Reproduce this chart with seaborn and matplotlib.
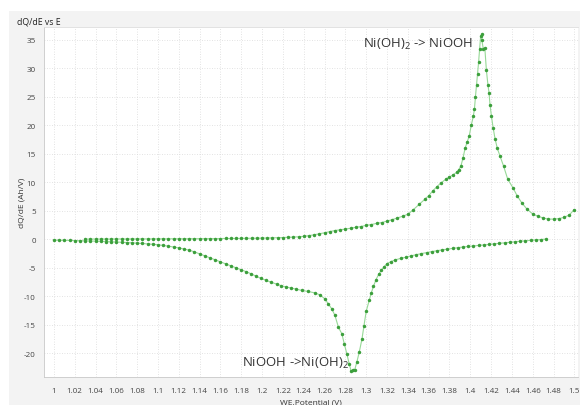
import numpy as np
import pandas as pd
import matplotlib
matplotlib.use("Agg")
import matplotlib.pyplot as plt
from matplotlib.patches import Rectangle
from matplotlib.ticker import MultipleLocator, FuncFormatter
import seaborn as sns

# =========================
# DATA
# =========================

# charge branch (upper curve), in scan order
charge_v = [
    1.030, 1.035, 1.040, 1.045, 1.050, 1.055, 1.060, 1.065, 1.070, 1.075,
    1.080, 1.085, 1.090, 1.095, 1.100, 1.105, 1.110, 1.115, 1.120, 1.125,
    1.130, 1.135, 1.140, 1.145, 1.150, 1.155, 1.160, 1.165, 1.170, 1.175,
    1.180, 1.185, 1.190, 1.195, 1.200, 1.205, 1.210, 1.215, 1.220, 1.225,
    1.230, 1.235, 1.240, 1.245, 1.250, 1.255, 1.260, 1.265, 1.270, 1.275,
    1.280, 1.285, 1.290, 1.295, 1.300, 1.305, 1.310, 1.315, 1.320, 1.325,
    1.330, 1.335, 1.340, 1.345, 1.351, 1.3565, 1.360, 1.364, 1.368, 1.3716,
    1.3765, 1.380, 1.383, 1.3868, 1.389, 1.391, 1.393, 1.395, 1.397, 1.399,
    1.401, 1.403, 1.404, 1.405, 1.406, 1.407, 1.408, 1.409, 1.410, 1.4115,
    1.411, 1.4125, 1.414, 1.4155, 1.417, 1.418, 1.419, 1.4203, 1.422, 1.4238,
    1.426, 1.4287, 1.432, 1.436, 1.441, 1.445, 1.4497, 1.4545, 1.460, 1.465,
    1.470, 1.475, 1.480, 1.4855, 1.490, 1.495, 1.4995,
]
charge_dqde = [
    0.00, 0.00, 0.01, 0.01, 0.01, 0.01, 0.02, 0.02, 0.02, 0.02,
    0.03, 0.03, 0.03, 0.03, 0.04, 0.04, 0.04, 0.05, 0.05, 0.05,
    0.06, 0.06, 0.07, 0.07, 0.08, 0.08, 0.09, 0.10, 0.10, 0.11,
    0.12, 0.13, 0.14, 0.15, 0.17, 0.19, 0.21, 0.24, 0.27, 0.31,
    0.35, 0.40, 0.47, 0.60, 0.75, 0.92, 1.10, 1.30, 1.50, 1.62,
    1.75, 1.90, 2.05, 2.20, 2.40, 2.55, 2.75, 2.90, 3.15, 3.40,
    3.70, 4.00, 4.35, 5.10, 6.10, 7.00, 7.60, 8.45, 9.20, 9.80,
    10.5, 10.9, 11.2, 11.7, 12.2, 12.8, 14.2, 15.9, 17.0, 18.1,
    20.0, 21.6, 22.8, 25.0, 27.0, 29.0, 31.0, 33.4, 35.6, 35.9,
    35.0, 33.4, 33.5, 29.6, 27.0, 25.7, 23.5, 21.6, 19.5, 17.6,
    15.9, 14.5, 12.8, 10.5, 9.0, 7.6, 6.3, 5.25, 4.4, 4.0,
    3.7, 3.5, 3.5, 3.6, 3.8, 4.2, 5.1,
]

# discharge branch (lower curve), in scan order
discharge_v = [
    1.473, 1.468, 1.463, 1.458, 1.453, 1.448, 1.443, 1.438, 1.433, 1.428,
    1.423, 1.418, 1.413, 1.408, 1.403, 1.398, 1.393, 1.388, 1.383, 1.378,
    1.373, 1.368, 1.363, 1.358, 1.353, 1.348, 1.343, 1.338, 1.333, 1.328,
    1.324, 1.320, 1.317, 1.3145, 1.312, 1.3095, 1.307, 1.305, 1.303, 1.300,
    1.2978, 1.296, 1.2934, 1.291, 1.2889, 1.2872, 1.2856, 1.2837, 1.2814, 1.279,
    1.2766, 1.2734, 1.270, 1.267, 1.2637, 1.2604, 1.2556, 1.2508, 1.2444, 1.238,
    1.233, 1.228, 1.223, 1.2186, 1.214, 1.209, 1.204, 1.199, 1.194, 1.1895,
    1.185, 1.180, 1.175, 1.170, 1.165, 1.160, 1.155, 1.150, 1.145, 1.140,
    1.135, 1.130, 1.125, 1.120, 1.115, 1.110, 1.105, 1.100, 1.095, 1.090,
    1.085, 1.080, 1.075, 1.070, 1.065, 1.060, 1.055, 1.050, 1.045, 1.040,
    1.035, 1.030, 1.025, 1.020, 1.015, 1.010, 1.005, 1.000,
]
discharge_dqde = [
    0.00, -0.08, -0.15, -0.22, -0.30, -0.38, -0.47, -0.57, -0.66, -0.75,
    -0.84, -0.94, -1.03, -1.12, -1.21, -1.30, -1.40, -1.52, -1.64, -1.77,
    -1.90, -2.05, -2.20, -2.38, -2.55, -2.75, -2.95, -3.20, -3.40, -3.65,
    -3.95, -4.30, -4.90, -5.50, -6.20, -7.10, -8.30, -9.40, -10.7, -12.7,
    -15.3, -17.5, -19.8, -21.6, -23.0, -22.9, -23.2, -21.9, -20.1, -18.4,
    -16.6, -15.5, -13.4, -12.25, -11.4, -10.5, -9.8, -9.45, -9.2, -9.0,
    -8.8, -8.6, -8.4, -8.2, -7.9, -7.6, -7.25, -6.9, -6.5, -6.1,
    -5.75, -5.4, -5.05, -4.7, -4.35, -4.0, -3.65, -3.3, -2.95, -2.6,
    -2.25, -1.95, -1.75, -1.55, -1.40, -1.25, -1.12, -1.00, -0.92, -0.85,
    -0.78, -0.72, -0.66, -0.61, -0.56, -0.52, -0.47, -0.43, -0.40, -0.37,
    -0.34, -0.31, -0.29, -0.26, -0.24, -0.22, -0.20, -0.18,
]

peak_labels = [r"Ni(OH)$_2$ -> NiOOH", r"NiOOH ->Ni(OH)$_2$"]

# =========================
# STYLE
# =========================

sns.set_style("white")
plt.rcParams['font.family'] = ['Open Sans', 'DejaVu Sans']
plt.rcParams['mathtext.fontset'] = 'custom'
plt.rcParams['mathtext.rm'] = 'Open Sans'

line_color = "#97d997"
marker_color = "#3c9f3c"
text_color = "#333333"
grid_color = "#d9d9d9"

fig = plt.figure(figsize=(5.8, 4.06), dpi=100, facecolor="white")
# gray panel behind the chart (white strip on top, left)
fig.patches.append(Rectangle((9 / 580, 0), 1, 1 - 12 / 406, transform=fig.transFigure,
                             facecolor="#f3f3f3", edgecolor="none", zorder=-5))

ax = fig.add_axes([44 / 580, 1 - 378 / 406, 534 / 580, 350 / 406])
ax.set_facecolor("white")

charge = pd.DataFrame({"E": charge_v, "dQdE": charge_dqde})
discharge = pd.DataFrame({"E": discharge_v, "dQdE": discharge_dqde})

for df in (charge, discharge):
    sns.lineplot(data=df, x="E", y="dQdE", ax=ax, sort=False, estimator=None,
                 color=line_color, linewidth=0.8, marker="o", markersize=2.5,
                 markerfacecolor=marker_color, markeredgecolor=marker_color,
                 markeredgewidth=0)

ax.text(1.297, 34.4, peak_labels[0], fontsize=9.5, color=text_color, va="center", ha="left")
ax.text(1.181, -21.6, peak_labels[1], fontsize=9.5, color=text_color, va="center", ha="left")

# =========================
# AXES
# =========================

ax.set_xlim(0.9905, 1.5035)
ax.set_ylim(-24.2, 37.2)

ax.xaxis.set_major_locator(MultipleLocator(0.02))
ax.xaxis.set_minor_locator(MultipleLocator(0.005))
ax.yaxis.set_major_locator(MultipleLocator(5))
ax.yaxis.set_minor_locator(MultipleLocator(1))
ax.xaxis.set_major_formatter(FuncFormatter(lambda v, p: f"{round(v, 3):g}"))
ax.yaxis.set_major_formatter(FuncFormatter(lambda v, p: f"{v:g}"))

ax.tick_params(axis="both", which="major", labelsize=5.8, labelcolor="#444444",
               color="#b0b0b0", length=2.5, width=0.6, direction="out")
ax.tick_params(axis="both", which="minor", color="#c0c0c0", length=1.5, width=0.5)
ax.tick_params(axis="x", pad=5)

ax.grid(True, which="major", color=grid_color, linestyle=(0, (1, 2)), linewidth=0.6)

ax.spines["right"].set_visible(False)
ax.spines["top"].set_color("#dddddd")
ax.spines["top"].set_linewidth(0.6)
ax.spines["left"].set_color("#c8c8c8")
ax.spines["bottom"].set_color("#c8c8c8")
ax.spines["left"].set_linewidth(0.6)
ax.spines["bottom"].set_linewidth(0.6)

ax.set_xlabel("WE.Potential (V)", fontsize=6, color=text_color, labelpad=3)
ax.set_ylabel("dQ/dE (Ah/V)", fontsize=6, color=text_color, labelpad=-1)

fig.text(17 / 580, 1 - 22 / 406, "dQ/dE vs E", fontsize=6.3, color="#222222",
         ha="left", va="center")

fig.savefig("out.png", dpi=100, facecolor=fig.get_facecolor())
